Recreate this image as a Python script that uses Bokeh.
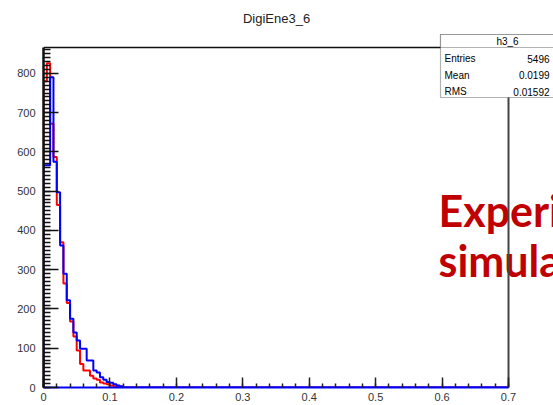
import numpy as np
from bokeh.plotting import figure
from bokeh.models import Range1d, FixedTicker, Label, BoxAnnotation
from bokeh.embed import file_html
from bokeh.resources import INLINE

# ---------------- data ----------------
title_text = "DigiEne3_6"
bin_width = 0.005
x_max = 0.7
y_max = 866
red_counts = [780, 826, 672, 587, 465, 370, 265, 215, 168, 130, 94, 60, 43, 43,
              30, 23, 20, 13, 10, 8, 5, 3, 2, 1]
blue_counts = [566, 566, 790, 575, 497, 362, 290, 222, 175, 140, 120, 99, 99, 69,
               69, 43, 38, 26, 20, 14, 12, 8, 5, 3]
x_ticks = [0, 0.1, 0.2, 0.3, 0.4, 0.5, 0.6, 0.7]
y_ticks = [0, 100, 200, 300, 400, 500, 600, 700, 800]
stats_name = "h3_6"
stats_keys = ["Entries", "Mean", "RMS"]
stats_vals = ["5496", "0.0199", "0.01592"]
overlay_lines = ["Experi", "simula"]

# ---------------- layout (pixels of the page) ----------------
W, H = 553, 405
FRAME_L, FRAME_B = 43, 387          # plot frame left / bottom
AXIS_R, AXIS_T = 508, 47            # where x_max / y_max fall


def sx(img_x):
    return img_x - FRAME_L


def sy(img_y):
    return FRAME_B - img_y


n_bins = int(round(x_max / bin_width))


def outline(counts):
    c = list(counts) + [0] * (n_bins - len(counts))
    xs, ys = [0.0], [0.0]
    for i, v in enumerate(c):
        xs += [i * bin_width, (i + 1) * bin_width]
        ys += [v, v]
    xs.append(n_bins * bin_width)
    ys.append(0)
    return xs, ys


x_end = x_max * (W - FRAME_L) / (AXIS_R - FRAME_L)
y_end = y_max * FRAME_B / (FRAME_B - AXIS_T)

p = figure(width=W, height=H, x_range=Range1d(0, x_end), y_range=Range1d(0, y_end),
           output_backend="svg", toolbar_location=None,
           min_border_left=FRAME_L, min_border_right=0, min_border_top=0,
           min_border_bottom=H - FRAME_B)
p.grid.visible = False
p.outline_line_color = None
p.background_fill_color = "white"
p.border_fill_color = "white"

p.xaxis.ticker = FixedTicker(ticks=x_ticks, minor_ticks=[i * 0.02 for i in range(36)])
p.xaxis.major_label_overrides = {0: "0"}
p.yaxis.ticker = FixedTicker(ticks=y_ticks, minor_ticks=list(range(0, 870, 10)))

for ax in p.xaxis:
    ax.bounds = (0, x_max)
    ax.major_tick_in = 10
    ax.major_tick_out = 0
    ax.minor_tick_in = 4
    ax.minor_tick_out = 0
    ax.axis_line_color = "#0000ff"
    ax.axis_line_width = 2
    ax.major_tick_line_color = "#222222"
    ax.minor_tick_line_color = "#222222"
    ax.major_tick_line_width = 1.5
    ax.minor_tick_line_width = 1.5
    ax.major_label_standoff = 5
for ax in p.yaxis:
    ax.bounds = (0, y_max)
    ax.major_tick_in = 15
    ax.major_tick_out = 0
    ax.minor_tick_in = 7
    ax.minor_tick_out = 0
    ax.axis_line_color = "#111111"
    ax.axis_line_width = 2.5
    ax.major_tick_line_color = "#111111"
    ax.minor_tick_line_color = "#111111"
    ax.major_tick_line_width = 1.5
    ax.minor_tick_line_width = 1.5
    ax.major_label_standoff = 8
for ax in list(p.xaxis) + list(p.yaxis):
    ax.major_label_text_font = "Liberation Sans"
    ax.major_label_text_font_size = "11px"
    ax.major_label_text_color = "#333333"

# overlay big red text (under the frame line)
for i, t in enumerate(overlay_lines):
    p.add_layout(Label(x=sx(438), y=sy(210 + 50 * i), x_units="screen", y_units="screen",
                       text=t, text_align="left", text_baseline="alphabetic",
                       text_font="Lato", text_font_style="bold", text_font_size="43px",
                       text_color="#c00000", level="underlay"))

rx, ry = outline(red_counts)
bx, by = outline(blue_counts)
p.line(rx, ry, line_color="#ff0000", line_width=2)
p.line(bx, by, line_color="#0000ff", line_width=2)

# ROOT frame: top and right edges
p.segment(x0=[0], y0=[y_max], x1=[x_max], y1=[y_max], line_color="#111111", line_width=1.5)
p.segment(x0=[x_max], y0=[0], x1=[x_max], y1=[y_max], line_color="#444444", line_width=2)

# title
p.add_layout(Label(x=sx(276), y=sy(18), x_units="screen", y_units="screen",
                   text=title_text, text_align="center", text_baseline="middle",
                   text_font="Liberation Sans", text_font_size="13px",
                   text_color="#222222"))

# stats box
p.add_layout(BoxAnnotation(left=sx(440), right=sx(600), top=sy(34), bottom=sy(97),
                           left_units="screen", right_units="screen",
                           top_units="screen", bottom_units="screen",
                           fill_color="white", fill_alpha=1.0,
                           line_color="black", line_width=1.2, level="overlay"))
p.add_layout(BoxAnnotation(left=sx(440), right=sx(600), top=sy(34), bottom=sy(47),
                           left_units="screen", right_units="screen",
                           top_units="screen", bottom_units="screen",
                           fill_color="white", fill_alpha=1.0,
                           line_color="black", line_width=1.2, level="overlay"))
p.add_layout(Label(x=sx(507), y=sy(40.5), x_units="screen", y_units="screen",
                   text=stats_name, text_align="center", text_baseline="middle",
                   text_font="Liberation Sans", text_font_size="10px", text_color="black",
                   level="overlay"))
for i, (k, v) in enumerate(zip(stats_keys, stats_vals)):
    yy = sy(58 + 16.5 * i)
    p.add_layout(Label(x=sx(444), y=yy, x_units="screen", y_units="screen",
                       text=k, text_align="left", text_baseline="middle",
                       text_font="Liberation Sans", text_font_size="10px",
                       text_color="black", level="overlay"))
    p.add_layout(Label(x=sx(549), y=yy, x_units="screen", y_units="screen",
                       text=v, text_align="right", text_baseline="middle",
                       text_font="Liberation Sans", text_font_size="10px",
                       text_color="black", level="overlay"))

open("out.html", "w").write(file_html(p, INLINE))
